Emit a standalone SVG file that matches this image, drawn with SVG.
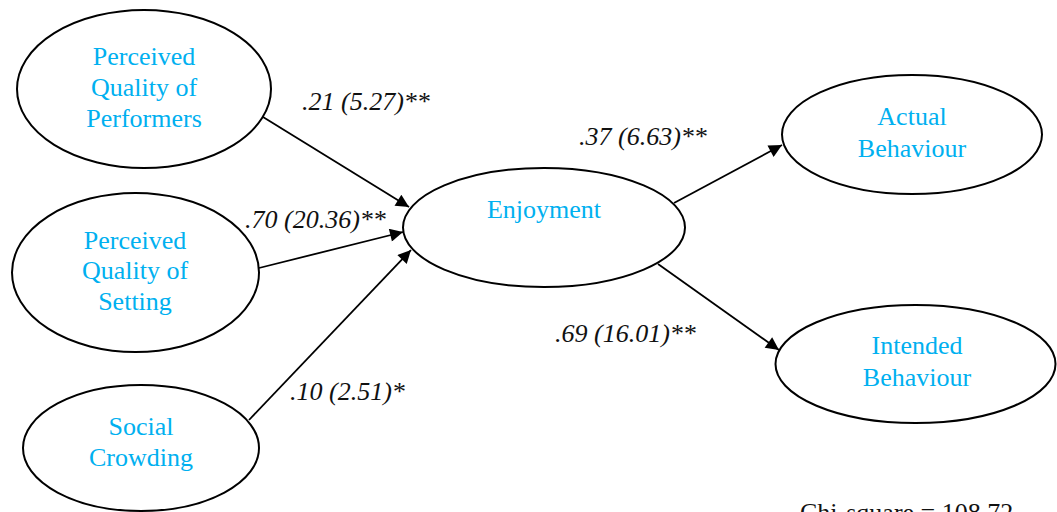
<svg xmlns="http://www.w3.org/2000/svg" width="1057" height="512" viewBox="0 0 1057 512">
<style>
.node ellipse{fill:#fff;stroke:#000;stroke-width:2}
.node text{font-family:"Liberation Serif","Times New Roman",serif;font-size:26px;fill:#00b0f0;text-anchor:middle}
.conn line{stroke:#000;stroke-width:1.8}
.lbl{font-family:"Liberation Serif","Times New Roman",serif;font-size:26px;font-style:italic;fill:#111}
.note{font-family:"Liberation Serif","Times New Roman",serif;font-size:26px;fill:#111}
</style>
<defs>
<marker id="arr" viewBox="0 0 10 10" refX="10" refY="5" markerWidth="16" markerHeight="13" markerUnits="userSpaceOnUse" orient="auto">
<path d="M0,0 L10,5 L0,10 z" fill="#000"/>
</marker>
</defs>
<rect width="1057" height="512" fill="#fff"/>
<g id="connectors" class="conn">
<line x1="263" y1="117" x2="409" y2="207" marker-end="url(#arr)"/>
<line x1="259" y1="268" x2="403" y2="232" marker-end="url(#arr)"/>
<line x1="249" y1="420" x2="411" y2="250" marker-end="url(#arr)"/>
<line x1="674" y1="203" x2="782" y2="145" marker-end="url(#arr)"/>
<line x1="658" y1="264" x2="779" y2="350" marker-end="url(#arr)"/>
</g>
<g id="n-performers" class="node">
<ellipse cx="144" cy="89" rx="127" ry="79"/>
<text x="144" y="65">Perceived</text>
<text x="144" y="96">Quality of</text>
<text x="144" y="127">Performers</text>
</g>
<g id="n-setting" class="node">
<ellipse cx="135.5" cy="272.5" rx="123.5" ry="79.5"/>
<text x="135" y="249">Perceived</text>
<text x="135" y="279">Quality of</text>
<text x="135" y="310">Setting</text>
</g>
<g id="n-crowding" class="node">
<ellipse cx="141" cy="448" rx="118" ry="63"/>
<text x="141" y="435">Social</text>
<text x="141" y="466">Crowding</text>
</g>
<g id="n-enjoyment" class="node">
<ellipse cx="544" cy="227.5" rx="141" ry="59.5"/>
<text x="544" y="218">Enjoyment</text>
</g>
<g id="n-actual" class="node">
<ellipse cx="912" cy="134.5" rx="130" ry="59.5"/>
<text x="912" y="125">Actual</text>
<text x="912" y="157">Behaviour</text>
</g>
<g id="n-intended" class="node">
<ellipse cx="915.5" cy="364" rx="140" ry="59"/>
<text x="917" y="354">Intended</text>
<text x="917" y="386">Behaviour</text>
</g>
<g id="labels">
<text class="lbl" x="302" y="110">.21 (5.27)**</text>
<text class="lbl" x="245" y="228">.70 (20.36)**</text>
<text class="lbl" x="290" y="400">.10 (2.51)*</text>
<text class="lbl" x="579" y="145">.37 (6.63)**</text>
<text class="lbl" x="555" y="342">.69 (16.01)**</text>
<text class="note" x="800" y="521">Chi-square = 108.72</text>
</g>
</svg>
